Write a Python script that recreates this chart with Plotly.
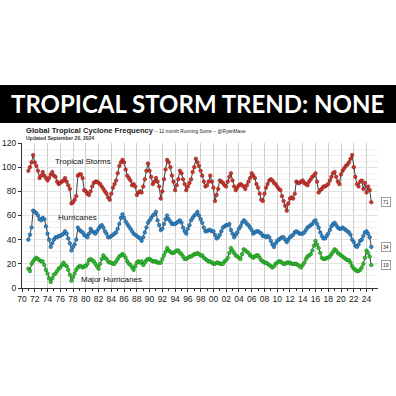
import plotly.graph_objects as go

# ---- data (12-month running sums, quarterly readings) ----
start_year = 1971
ts_vals = [
    97, 100, 104, 110,  104, 101, 97, 91,   93, 96, 93, 91,   89, 91, 94, 96,
    93, 92, 88, 86,     87, 88, 89, 91,     88, 85, 82, 70,   71, 73, 76, 93,
    94, 94, 91, 81,     80, 78, 77, 80,     84, 87, 88, 88,   87, 86, 84, 82,
    80, 78, 75, 73,     78, 83, 86, 89,     95, 101, 104, 106, 104, 98, 93, 91,
    89, 85, 86, 84,     77, 79, 80, 79,     84, 90, 97, 103,  97, 92, 86, 88,
    91, 88, 84, 74,     80, 90, 98, 106,    104, 100, 93, 88, 81, 85, 90, 97,
    95, 90, 86, 81,     84, 87, 90, 96,     100, 107, 104, 101, 97, 93, 88, 84,
    85, 88, 93, 88,     83, 72, 77, 82,     89, 88, 87, 85,   84, 88, 92, 95,
    89, 84, 81, 83,     85, 86, 85, 84,     82, 85, 88, 91,   95, 93, 91, 86,
    83, 78, 73, 72,     78, 83, 86, 89,     90, 89, 87, 86,   84, 82, 81, 76,
    72, 68, 64, 70,     74, 75, 74, 78,     88, 87, 87, 88,   89, 87, 86, 85,
    88, 90, 92, 93,     95, 88, 79, 81,     82, 84, 84, 85,   86, 89, 92, 95,
    96, 92, 88, 86,     94, 97, 99, 101,    102, 104, 107, 110, 100, 92, 86, 84,
    88, 89, 82, 87,     79, 84, 81, 71,
]
hu_vals = [
    40, 44, 50, 64,  63, 62, 60, 57,  56, 58, 57, 51,  45, 40, 34, 37,
    40, 42, 42, 43,  43, 44, 45, 47,  45, 41, 37, 31,  34, 36, 40, 50,
    48, 47, 46, 44,  43, 42, 45, 49,  47, 46, 45, 47,  49, 51, 52, 50,
    47, 45, 42, 42,  43, 44, 45, 46,  49, 53, 58, 61,  58, 55, 53, 51,
    49, 47, 45, 44,  43, 42, 41, 39,  42, 46, 50, 54,  56, 58, 60, 61,
    63, 56, 52, 48,  49, 53, 57, 60,  57, 55, 53, 53,  53, 54, 55, 56,
    54, 50, 47, 45,  49, 52, 56, 58,  60, 61, 63, 60,  57, 54, 50, 47,
    47, 48, 48, 47,  47, 44, 41, 42,  44, 47, 50, 51,  52, 52, 53, 48,
    45, 42, 44, 46,  49, 51, 54, 56,  55, 53, 52, 50,  48, 45, 46, 47,
    47, 46, 45, 43,  43, 42, 43, 42,  39, 36, 34, 37,  39, 40, 41, 42,
    42, 40, 38, 40,  42, 43, 44, 46,  47, 46, 45, 45,  45, 46, 48, 50,
    51, 52, 53, 55,  56, 53, 50, 46,  43, 41, 41, 43,  45, 48, 51, 53,
    54, 52, 50, 49,  49, 50, 49, 48,  47, 46, 44, 40,  38, 35, 34, 36,
    39, 40, 43, 46,  47, 45, 42, 34,
]
mh_vals = [
    16, 14, 20, 22,  24, 25, 24, 23,  22, 22, 19, 15,  12, 8, 5, 8,
    11, 12, 14, 16,  17, 19, 21, 19,  18, 15, 11, 6,   9, 12, 15, 17,
    18, 18, 17, 18,  18, 20, 23, 24,  23, 22, 20, 18,  16, 20, 24, 27,
    25, 24, 22, 21,  21, 20, 20, 22,  24, 26, 27, 28,  27, 25, 22, 20,
    19, 17, 15, 18,  21, 22, 21, 22,  19, 21, 23, 24,  24, 23, 22, 22,
    22, 21, 21, 21,  24, 27, 30, 33,  31, 30, 29, 29,  30, 31, 31, 29,
    28, 26, 24, 24,  25, 26, 26, 27,  28, 28, 29, 28,  27, 27, 25, 24,
    23, 22, 22, 21,  20, 20, 21, 21,  20, 20, 20, 22,  23, 25, 29, 33,
    31, 29, 27, 26,  25, 24, 28, 32,  31, 30, 29, 27,  26, 25, 26, 27,
    27, 25, 23, 22,  21, 21, 20, 19,  18, 17, 18, 20,  21, 22, 22, 21,
    20, 20, 21, 21,  21, 20, 20, 20,  20, 19, 18, 17,  19, 21, 24, 26,
    27, 28, 31, 35,  39, 36, 33, 29,  25, 24, 24, 25,  25, 26, 28, 30,
    32, 31, 29, 28,  27, 26, 25, 24,  23, 23, 21, 18,  16, 15, 14, 14,
    15, 17, 20, 25,  31, 29, 26, 19,
]
times = [start_year + i / 4.0 for i in range(len(ts_vals))]

tick_years = list(range(1970, 2025, 2))
tick_labels = ["%02d" % (y % 100) for y in tick_years]
y_ticks = [0, 20, 40, 60, 80, 100, 120]

series = [
    ("Tropical Storms", ts_vals, "#d0342c", "#7a1a14"),
    ("Hurricanes", hu_vals, "#2f86c8", "#154a75"),
    ("Major Hurricanes", mh_vals, "#2fbf2f", "#137313"),
]

fig = go.Figure()
for name, vals, col, edge in series:
    fig.add_trace(go.Scatter(
        x=times, y=vals, mode="lines+markers", name=name,
        line=dict(color="#111111", width=0.8),
        marker=dict(color=col, size=3.6, line=dict(color=edge, width=0.5)),
        showlegend=False,
    ))

BASE = "Liberation Sans, Arial, sans-serif"
PL, PR, PT, PB = 22, 18, 143, 108.3
PW, PH = 396 - PL - PR, 396 - PT - PB


def py(pix):
    return (396 - PB - pix) / PH


def px(pix):
    return (pix - PL) / PW


fig.update_layout(
    width=396, height=396,
    margin=dict(l=PL, r=PR, t=PT, b=PB, pad=0, autoexpand=False),
    paper_bgcolor="white", plot_bgcolor="white",
    font=dict(family=BASE, color="#222222"),
    xaxis=dict(
        range=[1970, 2025.8], tickvals=tick_years, ticktext=tick_labels,
        automargin=False,
        ticks="outside", ticklen=3, tickcolor="#333", tickwidth=1,
        tickfont=dict(size=8.5, color="#222"),
        showgrid=True, gridcolor="#cfcfcf", gridwidth=1,
        minor=dict(dtick=1, ticks="outside", ticklen=2, tickcolor="#333", showgrid=False),
        showline=True, linecolor="#333", linewidth=1, zeroline=False,
    ),
    yaxis=dict(
        range=[0, 120], tickvals=y_ticks, automargin=False,
        ticks="outside", ticklen=3, tickcolor="#333",
        tickfont=dict(size=8.5, color="#222"),
        showgrid=True, gridcolor="#e3e3e3", gridwidth=1,
        minor=dict(dtick=5, showgrid=True, gridcolor="#f0f0f0", gridwidth=0.6),
        showline=True, linecolor="#333", linewidth=1, zeroline=False,
    ),
)

# black banner
fig.add_shape(type="rect", xref="paper", yref="paper",
              x0=px(0), x1=px(396), y0=py(123), y1=py(85),
              fillcolor="black", line=dict(width=0), layer="above")
fig.add_annotation(xref="paper", yref="paper", x=px(197), y=py(104),
                   text="<b>TROPICAL STORM TREND: NONE</b>", showarrow=False,
                   font=dict(family="Lato, sans-serif", size=24, color="white"),
                   xanchor="center", yanchor="middle")

# chart title
fig.add_annotation(xref="paper", yref="paper", x=px(24), y=py(130.5),
                   text="<b>Global Tropical Cyclone Frequency</b>"
                        "<span style='font-size:4.8px'> -- 12 month Running Sums -- @RyanMaue</span>",
                   showarrow=False, xanchor="left", yanchor="middle",
                   font=dict(family=BASE, size=7.6, color="#222"))
fig.add_annotation(xref="paper", yref="paper", x=px(24), y=py(138),
                   text="<b>Updated September 20, 2024</b>",
                   showarrow=False, xanchor="left", yanchor="middle",
                   font=dict(family=BASE, size=5, color="#333"))

# series labels
label_pos = [("Tropical Storms", 1974.8, 104.5), ("Hurricanes", 1975.4, 58.6),
             ("Major Hurricanes", 1979.0, 7.2)]
for txt, lx, ly in label_pos:
    fig.add_annotation(x=lx, y=ly, text=txt, showarrow=False, xanchor="left",
                       yanchor="middle", font=dict(family=BASE, size=8, color="#111"))

# last-value boxes
for (name, vals, col, edge) in series:
    fig.add_annotation(x=2025.8, y=vals[-1], text=str(vals[-1]), showarrow=False,
                       xanchor="left", yanchor="middle", xshift=3,
                       font=dict(family=BASE, size=5, color="#222"),
                       bgcolor="white", bordercolor="#888", borderwidth=0.8, borderpad=1.2)

fig.write_html("out.html", config={"displayModeBar": False},
               post_script="document.body.style.margin='0';")
